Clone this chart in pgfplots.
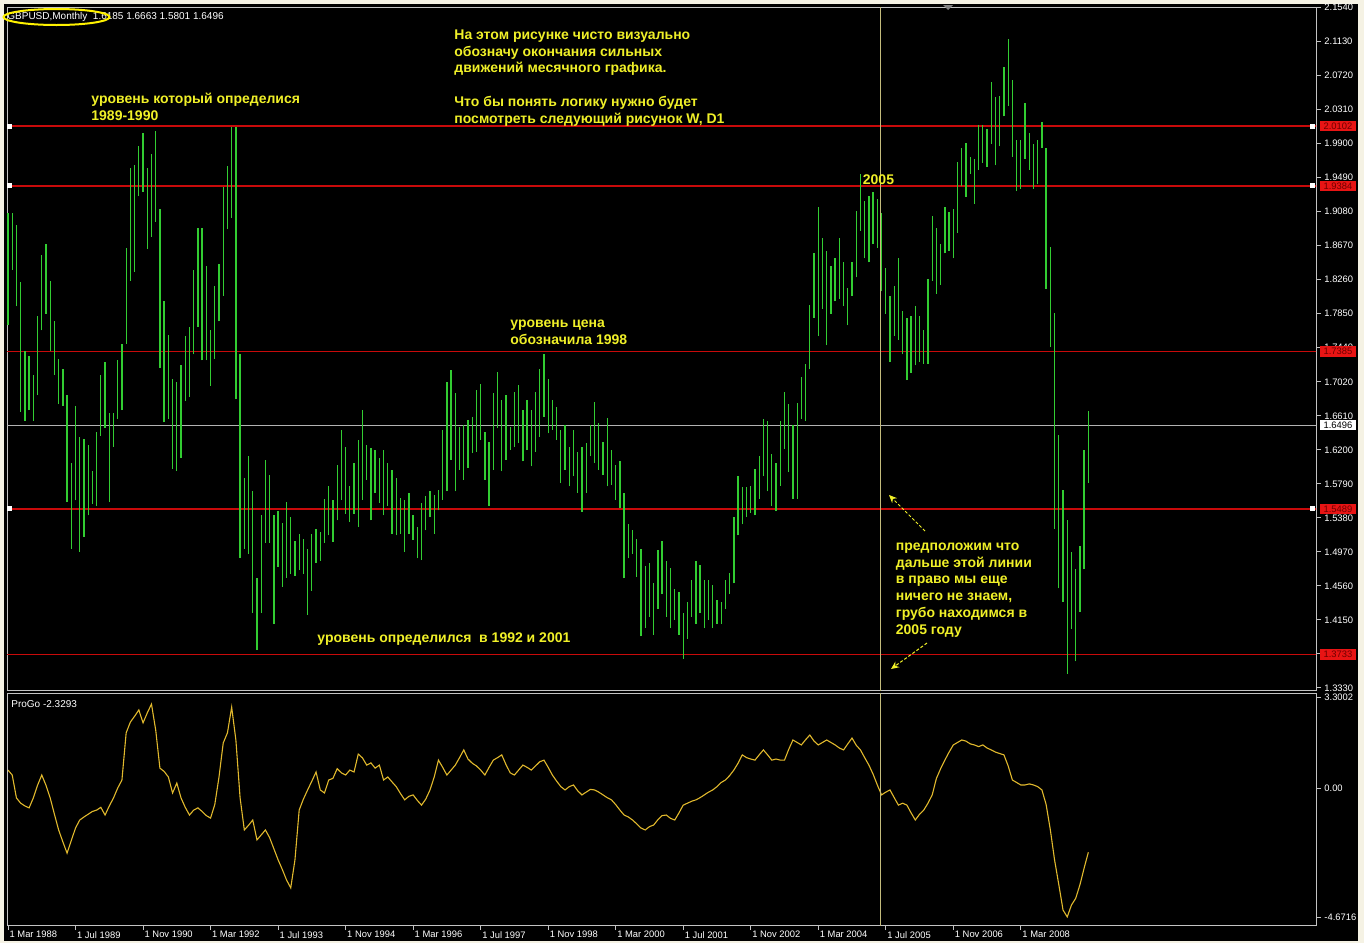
\documentclass[border=0pt]{standalone}
\usepackage{fontspec}
\setmainfont{Liberation Sans}
\usepackage{pgfplots}
\usepackage{pgfplotstable}
\pgfplotsset{compat=1.18}
\usetikzlibrary{arrows.meta}

\definecolor{cream}{RGB}{245,242,228}
\definecolor{barg}{RGB}{50,205,50}
\definecolor{lvl}{RGB}{200,10,10}
\definecolor{labred}{RGB}{232,20,20}
\definecolor{labtxt}{RGB}{110,0,0}
\definecolor{frame}{RGB}{195,195,195}
\definecolor{oscc}{RGB}{225,185,45}
\definecolor{vline}{RGB}{196,188,124}
\definecolor{anny}{RGB}{240,240,40}

\newcommand\lbl{\fontsize{4.7}{5.6}\selectfont}
\newcommand\hdr{\fontsize{5}{6}\selectfont}
\newcommand\ann{\fontsize{7}{8.35}\selectfont\bfseries}

% monthly bars, Mar 1988 .. Jul 2009 (high low)
\pgfplotstableread{
h l
1.906 1.770
1.906 1.837
1.891 1.793
1.822 1.666
1.739 1.655
1.733 1.668
1.710 1.655
1.782 1.686
1.855 1.764
1.868 1.784
1.824 1.739
1.775 1.710
1.730 1.675
1.717 1.673
1.686 1.557
1.604 1.501
1.673 1.559
1.635 1.497
1.633 1.515
1.626 1.541
1.595 1.555
1.641 1.552
1.710 1.637
1.726 1.646
1.664 1.557
1.664 1.624
1.728 1.657
1.748 1.668
1.864 1.748
1.960 1.824
1.964 1.835
1.986 1.926
2.002 1.931
1.960 1.862
1.977 1.877
2.004 1.895
1.911 1.719
1.799 1.653
1.759 1.657
1.706 1.597
1.702 1.595
1.722 1.610
1.757 1.679
1.768 1.684
1.837 1.735
1.888 1.768
1.888 1.728
1.842 1.728
1.764 1.697
1.817 1.730
1.844 1.775
1.937 1.806
1.962 1.886
2.009 1.900
2.009 1.681
1.735 1.490
1.586 1.501
1.613 1.495
1.570 1.423
1.466 1.379
1.541 1.423
1.608 1.508
1.590 1.508
1.541 1.410
1.546 1.479
1.532 1.455
1.557 1.466
1.539 1.470
1.510 1.468
1.519 1.475
1.512 1.470
1.501 1.421
1.519 1.450
1.524 1.484
1.521 1.486
1.561 1.508
1.576 1.517
1.560 1.509
1.602 1.535
1.644 1.560
1.624 1.543
1.576 1.533
1.604 1.543
1.632 1.527
1.668 1.560
1.626 1.584
1.622 1.535
1.620 1.568
1.610 1.556
1.620 1.541
1.604 1.552
1.596 1.519
1.586 1.517
1.562 1.519
1.560 1.497
1.568 1.519
1.541 1.511
1.527 1.489
1.556 1.487
1.564 1.523
1.570 1.539
1.566 1.519
1.572 1.547
1.644 1.560
1.702 1.570
1.716 1.608
1.688 1.570
1.648 1.596
1.650 1.584
1.656 1.598
1.660 1.616
1.692 1.618
1.700 1.632
1.642 1.584
1.630 1.552
1.688 1.596
1.714 1.646
1.680 1.594
1.686 1.608
1.648 1.620
1.690 1.624
1.698 1.628
1.668 1.606
1.680 1.620
1.668 1.600
1.690 1.618
1.718 1.636
1.736 1.660
1.706 1.640
1.680 1.644
1.672 1.632
1.644 1.580
1.650 1.596
1.624 1.576
1.644 1.588
1.618 1.568
1.624 1.545
1.628 1.568
1.650 1.612
1.678 1.604
1.652 1.596
1.630 1.590
1.658 1.576
1.620 1.578
1.602 1.560
1.606 1.550
1.568 1.465
1.531 1.489
1.523 1.495
1.513 1.467
1.500 1.395
1.480 1.405
1.484 1.419
1.459 1.397
1.499 1.428
1.510 1.446
1.486 1.419
1.477 1.405
1.452 1.415
1.448 1.397
1.423 1.368
1.437 1.392
1.463 1.419
1.486 1.410
1.481 1.423
1.463 1.405
1.463 1.415
1.457 1.405
1.439 1.410
1.437 1.410
1.463 1.428
1.472 1.446
1.539 1.459
1.588 1.517
1.575 1.530
1.575 1.539
1.577 1.544
1.597 1.541
1.612 1.561
1.657 1.588
1.655 1.570
1.615 1.552
1.604 1.546
1.655 1.577
1.690 1.621
1.675 1.593
1.650 1.561
1.677 1.561
1.708 1.657
1.724 1.655
1.795 1.717
1.857 1.779
1.913 1.757
1.875 1.790
1.860 1.746
1.842 1.784
1.851 1.799
1.875 1.802
1.846 1.793
1.815 1.770
1.846 1.806
1.908 1.828
1.953 1.884
1.920 1.851
1.926 1.846
1.931 1.868
1.922 1.864
1.906 1.811
1.839 1.784
1.806 1.726
1.817 1.757
1.851 1.753
1.788 1.735
1.779 1.704
1.782 1.713
1.793 1.722
1.782 1.726
1.764 1.724
1.826 1.724
1.902 1.824
1.888 1.808
1.868 1.819
1.913 1.857
1.907 1.860
1.910 1.851
1.967 1.882
1.984 1.938
1.990 1.925
1.973 1.953
1.971 1.917
2.012 1.958
2.012 1.966
2.007 1.961
2.064 1.989
2.046 1.963
2.047 1.986
2.082 2.022
2.115 2.035
2.066 1.973
1.994 1.932
1.994 1.935
2.038 1.971
2.002 1.958
1.989 1.935
1.994 1.940
2.015 1.984
1.984 1.814
1.865 1.744
1.785 1.525
1.638 1.453
1.571 1.437
1.535 1.350
1.497 1.404
1.476 1.365
1.504 1.425
1.620 1.476
1.6663 1.5801
}\bars

% ProGo oscillator, one value per bar
\pgfplotstableread{
v
0.65
0.47
-0.36
-0.55
-0.65
-0.72
-0.36
0.10
0.47
0.10
-0.36
-0.95
-1.52
-1.95
-2.36
-1.90
-1.45
-1.16
-1.05
-0.95
-0.85
-0.80
-0.70
-0.98
-0.65
-0.36
0.00
0.29
2.00
2.39
2.60
2.83
2.36
2.72
3.04
2.10
0.72
0.60
0.40
-0.18
0.18
-0.36
-0.70
-0.98
-0.80
-0.72
-0.85
-1.00
-1.09
-0.60
0.40
1.63
2.00
2.93
1.74
-0.36
-1.52
-1.35
-1.16
-1.88
-1.70
-1.52
-1.80
-2.20
-2.60
-2.95
-3.33
-3.62
-2.60
-0.80
-0.40
-0.07
0.25
0.58
-0.07
-0.18
0.29
0.35
0.70
0.55
0.47
0.65
0.58
1.23
1.09
0.83
0.91
0.72
0.83
0.29
0.40
0.22
0.05
-0.20
-0.43
-0.30
-0.25
-0.45
-0.62
-0.40
-0.07
0.40
1.01
0.75
0.47
0.65
0.83
1.10
1.38
1.05
0.90
0.80
0.65
0.47
0.75
1.01
1.10
1.20
0.85
0.55
0.47
0.65
0.83
0.75
0.65
0.80
0.95
1.01
0.75
0.47
0.25
0.05
-0.07
0.05
0.11
-0.10
-0.25
-0.15
-0.05
-0.07
-0.15
-0.25
-0.35
-0.43
-0.60
-0.80
-0.98
-1.05
-1.16
-1.30
-1.45
-1.52
-1.40
-1.34
-1.15
-1.00
-0.98
-1.10
-1.16
-0.90
-0.62
-0.55
-0.48
-0.43
-0.35
-0.25
-0.15
-0.07
0.05
0.20
0.29
0.45
0.65
0.90
1.20
1.10
1.05
1.01
1.20
1.38
1.20
1.01
1.05
1.01
1.01
1.40
1.74
1.65
1.56
1.75
1.92
1.70
1.56
1.65
1.74
1.65
1.56
1.45
1.38
1.60
1.81
1.55
1.38
1.10
0.83
0.50
0.11
-0.25
-0.15
-0.07
-0.35
-0.62
-0.55
-0.62
-0.90
-1.16
-0.95
-0.80
-0.55
-0.25
0.35
0.70
1.01
1.30
1.56
1.65
1.74
1.70
1.60
1.56
1.50
1.56
1.45
1.38
1.30
1.25
1.20
0.80
0.29
0.20
0.11
0.11
0.15
0.11
0.05
-0.07
-0.60
-1.52
-2.61
-3.50
-4.42
-4.67
-4.24
-4.00
-3.51
-2.90
-2.33
}\osc

\begin{document}
\begin{tikzpicture}
\fill[cream] (0pt,0pt) rectangle (682pt,-471.5pt);
\fill[black] (2pt,-2pt) rectangle (679pt,-470.5pt);

% price panel
\begin{axis}[
    at={(3.5pt,-345pt)}, anchor=south west, scale only axis,
    width=654.5pt, height=341.5pt,
    xmin=-0.237, xmax=309.95, ymin=1.3304, ymax=2.154,
    axis line style={draw=frame, line width=0.5pt},
    xtick=\empty,
    ytick={1.333,1.374,1.415,1.456,1.497,1.538,1.579,1.620,1.661,1.702,1.744,1.785,1.826,1.867,1.908,1.949,1.990,2.031,2.072,2.113,2.154},
    yticklabels={1.3330,1.3740,1.4150,1.4560,1.4970,1.5380,1.5790,1.6200,1.6610,1.7020,1.7440,1.7850,1.8260,1.8670,1.9080,1.9490,1.9900,2.0310,2.0720,2.1130,2.1540},
    ytick pos=right, yticklabel pos=right,
    tick align=outside, major tick length=2.5pt,
    tick style={draw=frame, line width=0.4pt},
    yticklabel style={font=\lbl, text=white, anchor=west, inner sep=0pt, xshift=1.5pt},
    clip mode=individual,
]
\addplot[lvl, line width=0.8pt, forget plot] coordinates {(-1,2.0102) (311,2.0102)};
\addplot[lvl, line width=0.8pt, forget plot] coordinates {(-1,1.9384) (311,1.9384)};
\addplot[lvl, line width=0.8pt, forget plot] coordinates {(-1,1.7385) (311,1.7385)};
\addplot[lvl, line width=0.8pt, forget plot] coordinates {(-1,1.5489) (311,1.5489)};
\addplot[lvl, line width=0.8pt, forget plot] coordinates {(-1,1.3733) (311,1.3733)};
\addplot[gray!60, line width=0.6pt, forget plot] coordinates {(-1,1.6496) (311,1.6496)};

\addplot[draw=none, mark=none, forget plot,
    error bars/.cd, y dir=plus, y explicit, error mark=none,
    error bar style={draw=barg, line width=0.65pt}]
    table[x expr=\coordindex, y=l, y error expr=\thisrow{h}-\thisrow{l}] {\bars};

\addplot[vline, line width=0.6pt, forget plot] coordinates {(206.8,1.3) (206.8,2.2)};

\addplot[only marks, mark=square*, mark size=1pt, mark options={fill=white, draw=white}, forget plot]
    coordinates {(0.3,2.0102) (309.1,2.0102) (0.3,1.9384) (309.1,1.9384) (0.3,1.5489) (309.1,1.5489)};
\end{axis}

% oscillator panel
\begin{axis}[
    at={(3.5pt,-462.5pt)}, anchor=south west, scale only axis,
    width=654.5pt, height=116pt,
    xmin=-0.237, xmax=309.95, ymin=-4.964, ymax=3.442,
    axis line style={draw=frame, line width=0.5pt},
    xtick={0,16,...,240},
    xticklabels={1 Mar 1988,1 Jul 1989,1 Nov 1990,1 Mar 1992,1 Jul 1993,1 Nov 1994,1 Mar 1996,1 Jul 1997,1 Nov 1998,1 Mar 2000,1 Jul 2001,1 Nov 2002,1 Mar 2004,1 Jul 2005,1 Nov 2006,1 Mar 2008},
    ytick={-4.6716,0,3.3002},
    yticklabels={-4.6716,0.00,\raisebox{-3pt}{3.3002}},
    xtick pos=bottom, ytick pos=right, yticklabel pos=right,
    tick align=outside, major tick length=2.5pt,
    tick style={draw=frame, line width=0.4pt},
    yticklabel style={font=\lbl, text=white, anchor=west, inner sep=0pt, xshift=1.5pt},
    xticklabel style={font=\lbl, text=white, anchor=north west, inner sep=0pt, xshift=0.6pt, yshift=-0.5pt},
]
\addplot[oscc, line width=0.55pt] table[x expr=\coordindex, y=v] {\osc};
\addplot[vline, line width=0.6pt] coordinates {(206.8,-6) (206.8,4)};
\end{axis}

% overlay in pixel units
\begin{scope}[x=0.5pt, y=-0.5pt]
\fill[gray] (943,5) -- (953,5) -- (948,10) -- cycle;
\node[font=\hdr, text=white, anchor=base west, inner sep=0pt] at (7,19) {GBPUSD,Monthly\ \ 1.6185 1.6663 1.5801 1.6496};
\draw[yellow, line width=1pt] (56.5,17) ellipse [x radius=53, y radius=8];
\node[font=\hdr, text=white, anchor=base west, inner sep=0pt] at (11,707) {ProGo -2.3293};

\tikzset{an/.style={font=\ann, text=anny, anchor=base west, inner sep=0pt}}
\node[an] at (91,103) {уровень который определися};
\node[an] at (91,120) {1989-1990};
\node[an] at (454,39.5) {На этом рисунке чисто визуально};
\node[an] at (454,56.2) {обозначу окончания сильных};
\node[an] at (454,72.9) {движений месячного графика.};
\node[an] at (454,106.3) {Что бы понять логику нужно будет};
\node[an] at (454,123) {посмотреть следующий рисунок W, D1};
\node[an] at (862.5,184) {2005};
\node[an] at (510,327) {уровень цена};
\node[an] at (510,344) {обозначила 1998};
\node[an] at (317,642) {уровень определился\ \ в 1992 и 2001};
\node[an] at (895.5,550.5) {предположим что};
\node[an] at (895.5,567.2) {дальше этой линии};
\node[an] at (895.5,583.9) {в право мы еще};
\node[an] at (895.5,600.6) {ничего не знаем,};
\node[an] at (895.5,617.3) {грубо находимся в};
\node[an] at (895.5,634) {2005 году};

\draw[anny, line width=0.5pt, dash pattern=on 1.5pt off 1pt, -{Stealth[length=4pt, width=3.5pt]}] (925,531) -- (889,495);
\draw[anny, line width=0.5pt, dash pattern=on 1.5pt off 1pt, -{Stealth[length=4pt, width=3.5pt]}] (927,643) -- (891,669);

\tikzset{rl/.style={font=\lbl, fill=labred, text=labtxt, anchor=west, inner xsep=1.6pt, inner ysep=0.9pt}}
\node[rl] at (1320,126.3) {2.0102};
\node[rl] at (1320,185.8) {1.9384};
\node[rl] at (1320,351.6) {1.7385};
\node[rl, fill=white, text=black] at (1320,425.3) {1.6496};
\node[rl] at (1320,508.8) {1.5489};
\node[rl] at (1320,654.4) {1.3733};
\end{scope}
\end{tikzpicture}
\end{document}
